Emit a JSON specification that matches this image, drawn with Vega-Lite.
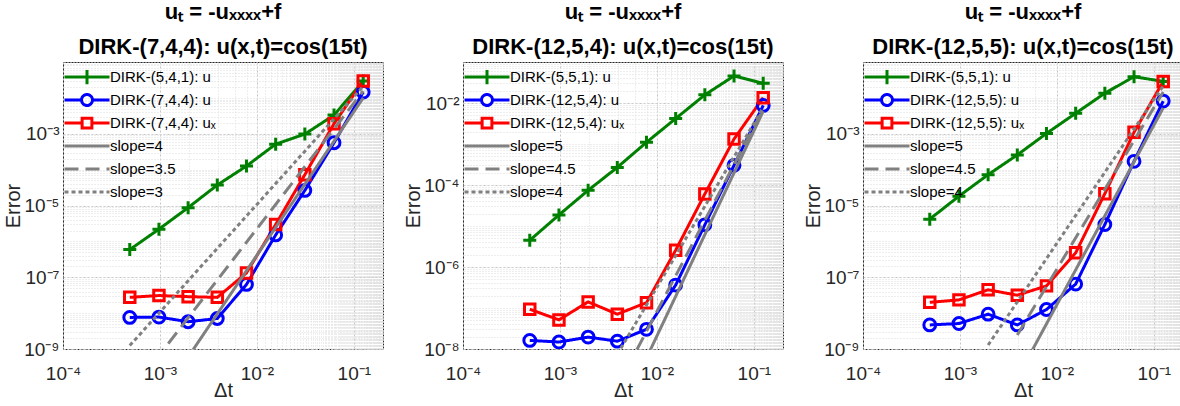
{
  "$schema": "https://vega.github.io/schema/vega-lite/v6.json",
  "background": "white",
  "padding": {"left": 2, "top": 0, "right": 0, "bottom": 0},
  "spacing": 80,
  "bounds": "flush",
  "datasets": {
    "p1": [
      {"s": "DIRK-(5,4,1): u", "k": "d", "dt": 0.00048828125, "e": 5.89e-7},
      {"s": "DIRK-(5,4,1): u", "k": "d", "dt": 0.0009765625, "e": 2.19e-6},
      {"s": "DIRK-(5,4,1): u", "k": "d", "dt": 0.001953125, "e": 8.71e-6},
      {"s": "DIRK-(5,4,1): u", "k": "d", "dt": 0.00390625, "e": 3.72e-5},
      {"s": "DIRK-(5,4,1): u", "k": "d", "dt": 0.0078125, "e": 1.26e-4},
      {"s": "DIRK-(5,4,1): u", "k": "d", "dt": 0.015625, "e": 5.13e-4},
      {"s": "DIRK-(5,4,1): u", "k": "d", "dt": 0.03125, "e": 9.77e-4},
      {"s": "DIRK-(5,4,1): u", "k": "d", "dt": 0.0625, "e": 3.31e-3},
      {"s": "DIRK-(5,4,1): u", "k": "d", "dt": 0.125, "e": 2.95e-2},
      {"s": "DIRK-(7,4,4): u", "k": "d", "dt": 0.00048828125, "e": 7.59e-9},
      {"s": "DIRK-(7,4,4): u", "k": "d", "dt": 0.0009765625, "e": 7.76e-9},
      {"s": "DIRK-(7,4,4): u", "k": "d", "dt": 0.001953125, "e": 5.75e-9},
      {"s": "DIRK-(7,4,4): u", "k": "d", "dt": 0.00390625, "e": 7.08e-9},
      {"s": "DIRK-(7,4,4): u", "k": "d", "dt": 0.0078125, "e": 6.31e-8},
      {"s": "DIRK-(7,4,4): u", "k": "d", "dt": 0.015625, "e": 1.51e-6},
      {"s": "DIRK-(7,4,4): u", "k": "d", "dt": 0.03125, "e": 2.63e-5},
      {"s": "DIRK-(7,4,4): u", "k": "d", "dt": 0.0625, "e": 5.62e-4},
      {"s": "DIRK-(7,4,4): u", "k": "d", "dt": 0.125, "e": 1.45e-2},
      {"s": "DIRK-(7,4,4): uₓ", "k": "d", "dt": 0.00048828125, "e": 2.75e-8},
      {"s": "DIRK-(7,4,4): uₓ", "k": "d", "dt": 0.0009765625, "e": 3.09e-8},
      {"s": "DIRK-(7,4,4): uₓ", "k": "d", "dt": 0.001953125, "e": 2.88e-8},
      {"s": "DIRK-(7,4,4): uₓ", "k": "d", "dt": 0.00390625, "e": 2.75e-8},
      {"s": "DIRK-(7,4,4): uₓ", "k": "d", "dt": 0.0078125, "e": 1.32e-7},
      {"s": "DIRK-(7,4,4): uₓ", "k": "d", "dt": 0.015625, "e": 2.95e-6},
      {"s": "DIRK-(7,4,4): uₓ", "k": "d", "dt": 0.03125, "e": 7.24e-5},
      {"s": "DIRK-(7,4,4): uₓ", "k": "d", "dt": 0.0625, "e": 1.91e-3},
      {"s": "DIRK-(7,4,4): uₓ", "k": "d", "dt": 0.125, "e": 2.95e-2},
      {"s": "slope=4", "k": "r", "dt": 0.00048828125, "e": 2.33e-12},
      {"s": "slope=4", "k": "r", "dt": 0.125, "e": 1.0e-2},
      {"s": "slope=3.5", "k": "r", "dt": 0.00048828125, "e": 5.77e-11},
      {"s": "slope=3.5", "k": "r", "dt": 0.125, "e": 1.55e-2},
      {"s": "slope=3", "k": "r", "dt": 0.00048828125, "e": 1.245e-9},
      {"s": "slope=3", "k": "r", "dt": 0.125, "e": 2.09e-2}
    ],
    "p2": [
      {"s": "DIRK-(5,5,1): u", "k": "d", "dt": 0.00048828125, "e": 4.47e-6},
      {"s": "DIRK-(5,5,1): u", "k": "d", "dt": 0.0009765625, "e": 1.86e-5},
      {"s": "DIRK-(5,5,1): u", "k": "d", "dt": 0.001953125, "e": 7.41e-5},
      {"s": "DIRK-(5,5,1): u", "k": "d", "dt": 0.00390625, "e": 2.69e-4},
      {"s": "DIRK-(5,5,1): u", "k": "d", "dt": 0.0078125, "e": 1.10e-3},
      {"s": "DIRK-(5,5,1): u", "k": "d", "dt": 0.015625, "e": 4.17e-3},
      {"s": "DIRK-(5,5,1): u", "k": "d", "dt": 0.03125, "e": 1.58e-2},
      {"s": "DIRK-(5,5,1): u", "k": "d", "dt": 0.0625, "e": 4.57e-2},
      {"s": "DIRK-(5,5,1): u", "k": "d", "dt": 0.125, "e": 3.02e-2},
      {"s": "DIRK-(12,5,4): u", "k": "d", "dt": 0.00048828125, "e": 1.62e-8},
      {"s": "DIRK-(12,5,4): u", "k": "d", "dt": 0.0009765625, "e": 1.48e-8},
      {"s": "DIRK-(12,5,4): u", "k": "d", "dt": 0.001953125, "e": 1.95e-8},
      {"s": "DIRK-(12,5,4): u", "k": "d", "dt": 0.00390625, "e": 1.55e-8},
      {"s": "DIRK-(12,5,4): u", "k": "d", "dt": 0.0078125, "e": 3.02e-8},
      {"s": "DIRK-(12,5,4): u", "k": "d", "dt": 0.015625, "e": 3.63e-7},
      {"s": "DIRK-(12,5,4): u", "k": "d", "dt": 0.03125, "e": 1.07e-5},
      {"s": "DIRK-(12,5,4): u", "k": "d", "dt": 0.0625, "e": 3.02e-4},
      {"s": "DIRK-(12,5,4): u", "k": "d", "dt": 0.125, "e": 8.71e-3},
      {"s": "DIRK-(12,5,4): uₓ", "k": "d", "dt": 0.00048828125, "e": 9.33e-8},
      {"s": "DIRK-(12,5,4): uₓ", "k": "d", "dt": 0.0009765625, "e": 5.13e-8},
      {"s": "DIRK-(12,5,4): uₓ", "k": "d", "dt": 0.001953125, "e": 1.41e-7},
      {"s": "DIRK-(12,5,4): uₓ", "k": "d", "dt": 0.00390625, "e": 7.08e-8},
      {"s": "DIRK-(12,5,4): uₓ", "k": "d", "dt": 0.0078125, "e": 1.35e-7},
      {"s": "DIRK-(12,5,4): uₓ", "k": "d", "dt": 0.015625, "e": 2.57e-6},
      {"s": "DIRK-(12,5,4): uₓ", "k": "d", "dt": 0.03125, "e": 6.03e-5},
      {"s": "DIRK-(12,5,4): uₓ", "k": "d", "dt": 0.0625, "e": 1.32e-3},
      {"s": "DIRK-(12,5,4): uₓ", "k": "d", "dt": 0.125, "e": 1.35e-2},
      {"s": "slope=5", "k": "r", "dt": 0.00390625, "e": 1.88e-10},
      {"s": "slope=5", "k": "r", "dt": 0.125, "e": 6.31e-3},
      {"s": "slope=4.5", "k": "r", "dt": 0.00390625, "e": 1.19e-9},
      {"s": "slope=4.5", "k": "r", "dt": 0.125, "e": 7.08e-3},
      {"s": "slope=4", "k": "r", "dt": 0.00390625, "e": 7.4e-9},
      {"s": "slope=4", "k": "r", "dt": 0.125, "e": 7.76e-3}
    ],
    "p3": [
      {"s": "DIRK-(5,5,1): u", "k": "d", "dt": 0.00048828125, "e": 4.17e-6},
      {"s": "DIRK-(5,5,1): u", "k": "d", "dt": 0.0009765625, "e": 1.82e-5},
      {"s": "DIRK-(5,5,1): u", "k": "d", "dt": 0.001953125, "e": 7.24e-5},
      {"s": "DIRK-(5,5,1): u", "k": "d", "dt": 0.00390625, "e": 2.57e-4},
      {"s": "DIRK-(5,5,1): u", "k": "d", "dt": 0.0078125, "e": 1.02e-3},
      {"s": "DIRK-(5,5,1): u", "k": "d", "dt": 0.015625, "e": 3.72e-3},
      {"s": "DIRK-(5,5,1): u", "k": "d", "dt": 0.03125, "e": 1.35e-2},
      {"s": "DIRK-(5,5,1): u", "k": "d", "dt": 0.0625, "e": 3.89e-2},
      {"s": "DIRK-(5,5,1): u", "k": "d", "dt": 0.125, "e": 2.88e-2},
      {"s": "DIRK-(12,5,5): u", "k": "d", "dt": 0.00048828125, "e": 4.68e-9},
      {"s": "DIRK-(12,5,5): u", "k": "d", "dt": 0.0009765625, "e": 5.13e-9},
      {"s": "DIRK-(12,5,5): u", "k": "d", "dt": 0.001953125, "e": 9.33e-9},
      {"s": "DIRK-(12,5,5): u", "k": "d", "dt": 0.00390625, "e": 4.68e-9},
      {"s": "DIRK-(12,5,5): u", "k": "d", "dt": 0.0078125, "e": 1.26e-8},
      {"s": "DIRK-(12,5,5): u", "k": "d", "dt": 0.015625, "e": 6.46e-8},
      {"s": "DIRK-(12,5,5): u", "k": "d", "dt": 0.03125, "e": 2.95e-6},
      {"s": "DIRK-(12,5,5): u", "k": "d", "dt": 0.0625, "e": 1.70e-4},
      {"s": "DIRK-(12,5,5): u", "k": "d", "dt": 0.125, "e": 8.13e-3},
      {"s": "DIRK-(12,5,5): uₓ", "k": "d", "dt": 0.00048828125, "e": 2.0e-8},
      {"s": "DIRK-(12,5,5): uₓ", "k": "d", "dt": 0.0009765625, "e": 2.34e-8},
      {"s": "DIRK-(12,5,5): uₓ", "k": "d", "dt": 0.001953125, "e": 4.47e-8},
      {"s": "DIRK-(12,5,5): uₓ", "k": "d", "dt": 0.00390625, "e": 3.16e-8},
      {"s": "DIRK-(12,5,5): uₓ", "k": "d", "dt": 0.0078125, "e": 5.75e-8},
      {"s": "DIRK-(12,5,5): uₓ", "k": "d", "dt": 0.015625, "e": 4.79e-7},
      {"s": "DIRK-(12,5,5): uₓ", "k": "d", "dt": 0.03125, "e": 2.14e-5},
      {"s": "DIRK-(12,5,5): uₓ", "k": "d", "dt": 0.0625, "e": 1.10e-3},
      {"s": "DIRK-(12,5,5): uₓ", "k": "d", "dt": 0.125, "e": 2.88e-2},
      {"s": "slope=5", "k": "r", "dt": 0.001953125, "e": 4.9e-12},
      {"s": "slope=5", "k": "r", "dt": 0.125, "e": 5.25e-3},
      {"s": "slope=4.5", "k": "r", "dt": 0.00390625, "e": 2.45e-9},
      {"s": "slope=4.5", "k": "r", "dt": 0.125, "e": 1.45e-2},
      {"s": "slope=4", "k": "r", "dt": 0.001953125, "e": 1.29e-9},
      {"s": "slope=4", "k": "r", "dt": 0.125, "e": 2.16e-2}
    ]
  },
  "hconcat": [
    {
      "width": 320, "height": 287,
      "data": {"name": "p1"},
      "title": {"text": ["uₜ = -uₓₓₓₓ+f", "DIRK-(7,4,4): u(x,t)=cos(15t)"]},
      "layer": [
        {
          "transform": [{"filter": "datum.k == 'd'"}],
          "mark": {"type": "line", "strokeWidth": 3, "clip": true},
          "encoding": {
            "x": {"field": "dt", "type": "quantitative", "scale": {"type": "log", "domain": [0.0001, 0.2], "nice": false},
              "axis": {"orient": "bottom", "values": [0.0001, 0.001, 0.01, 0.1], "labelExpr": "'10' + (datum.value < 1 ? '⁻' : '') + ['⁰','¹','²','³','⁴','⁵','⁶','⁷','⁸','⁹'][abs(round(log(datum.value)/LN10))]", "title": "Δt", "grid": true, "gridColor": "#c4c4c4", "gridDash": [2, 2], "labelPadding": 15, "titlePadding": -3}},
            "y": {"field": "e", "type": "quantitative", "scale": {"type": "log", "domain": [1e-9, 0.1], "nice": false},
              "axis": {"orient": "left", "values": [1e-9, 1e-7, 1e-5, 0.001], "labelExpr": "'10' + (datum.value < 1 ? '⁻' : '') + ['⁰','¹','²','³','⁴','⁵','⁶','⁷','⁸','⁹'][abs(round(log(datum.value)/LN10))]", "title": "Error", "grid": true, "gridColor": "#c4c4c4", "gridDash": [2, 2], "labelPadding": 4, "minExtent": 38, "maxExtent": 38, "titlePadding": 2}},
            "color": {"field": "s", "type": "nominal",
              "scale": {"domain": ["DIRK-(5,4,1): u", "DIRK-(7,4,4): u", "DIRK-(7,4,4): uₓ", "slope=4", "slope=3.5", "slope=3"], "range": ["#008000", "#0000ff", "#ff0000", "#808080", "#808080", "#808080"]},
              "legend": {"encode": {"symbols": {"update": {
                "shape": {"signal": "indexof(datum.value,'slope')>=0 ? 'M1.2,-0.95M1.2,0.95M-1.8,0H4.2' : indexof(datum.value,'ₓ')>=0 ? 'M1.2,-0.95M1.2,0.95M-1.8,0H0.55M1.85,0H4.2M0.55,-0.65H1.85V0.65H0.55Z' : indexof(datum.value,'(5,')>=0 ? 'M-1.8,0H4.2M1.2,-0.95V0.95' : 'M1.2,-0.95M1.2,0.95M-1.8,0H0.47M1.93,0H4.2M0.47,0A0.73,0.73,0,1,1,1.93,0A0.73,0.73,0,1,1,0.47,0'"},
                "stroke": {"signal": "indexof(datum.value,'slope')>=0 ? '#808080' : indexof(datum.value,'ₓ')>=0 ? '#ff0000' : indexof(datum.value,'(5,')>=0 ? '#008000' : '#0000ff'"},
                "strokeDash": {"signal": "datum.value=='slope=3.5' ? [24,10] : datum.value=='slope=3' ? [4,3] : [1,0]"},
                "strokeWidth": {"value": 3}, "fill": {"value": "transparent"}, "opacity": {"value": 1}}}}}},
            "strokeDash": {"field": "s", "type": "nominal", "legend": null,
              "scale": {"domain": ["DIRK-(5,4,1): u", "DIRK-(7,4,4): u", "DIRK-(7,4,4): uₓ", "slope=4", "slope=3.5", "slope=3"], "range": [[1, 0], [1, 0], [1, 0], [1, 0], [14, 7], [4, 3]]}}
          }
        },
        {
          "transform": [{"filter": "datum.k == 'd'"}],
          "mark": {"type": "point", "filled": false, "strokeWidth": 3, "opacity": 1, "clip": true},
          "encoding": {
            "x": {"field": "dt", "type": "quantitative", "axis": {"orient": "top", "tickCount": 100, "labels": false, "title": null, "grid": true, "gridColor": "#dcdcdc", "gridDash": [1, 2]}},
            "y": {"field": "e", "type": "quantitative", "axis": {"orient": "right", "tickCount": 100, "labels": false, "title": null, "grid": true, "gridColor": "#dcdcdc", "gridDash": [1, 2]}},
            "color": {"field": "s", "type": "nominal"},
            "shape": {"field": "s", "type": "nominal", "legend": null, "scale": {"domain": ["DIRK-(5,4,1): u", "DIRK-(7,4,4): u", "DIRK-(7,4,4): uₓ"], "range": ["M-1,0H1M0,-1V1", "circle", "square"]}},
            "size": {"field": "s", "type": "nominal", "legend": null, "scale": {"domain": ["DIRK-(5,4,1): u", "DIRK-(7,4,4): u", "DIRK-(7,4,4): uₓ"], "range": [169, 110, 90]}}
          }
        },
        {
          "transform": [{"filter": "datum.k == 'r'"}],
          "mark": {"type": "line", "strokeWidth": 3, "clip": true},
          "encoding": {
            "x": {"field": "dt", "type": "quantitative", "axis": null},
            "y": {"field": "e", "type": "quantitative", "axis": null},
            "color": {"field": "s", "type": "nominal"},
            "strokeDash": {"field": "s", "type": "nominal", "legend": null}
          }
        }
      ],
      "resolve": {"axis": {"x": "independent", "y": "independent"}}
    },
    {
      "width": 320, "height": 287,
      "data": {"name": "p2"},
      "title": {"text": ["uₜ = -uₓₓₓₓ+f", "DIRK-(12,5,4): u(x,t)=cos(15t)"]},
      "layer": [
        {
          "transform": [{"filter": "datum.k == 'd'"}],
          "mark": {"type": "line", "strokeWidth": 3, "clip": true},
          "encoding": {
            "x": {"field": "dt", "type": "quantitative", "scale": {"type": "log", "domain": [0.0001, 0.2], "nice": false},
              "axis": {"orient": "bottom", "values": [0.0001, 0.001, 0.01, 0.1], "labelExpr": "'10' + (datum.value < 1 ? '⁻' : '') + ['⁰','¹','²','³','⁴','⁵','⁶','⁷','⁸','⁹'][abs(round(log(datum.value)/LN10))]", "title": "Δt", "grid": true, "gridColor": "#c4c4c4", "gridDash": [2, 2], "labelPadding": 15, "titlePadding": -3}},
            "y": {"field": "e", "type": "quantitative", "scale": {"type": "log", "domain": [1e-8, 0.1], "nice": false},
              "axis": {"orient": "left", "values": [1e-8, 1e-6, 1e-4, 0.01], "labelExpr": "'10' + (datum.value < 1 ? '⁻' : '') + ['⁰','¹','²','³','⁴','⁵','⁶','⁷','⁸','⁹'][abs(round(log(datum.value)/LN10))]", "title": "Error", "grid": true, "gridColor": "#c4c4c4", "gridDash": [2, 2], "labelPadding": 4, "minExtent": 38, "maxExtent": 38, "titlePadding": 2}},
            "color": {"field": "s", "type": "nominal",
              "scale": {"domain": ["DIRK-(5,5,1): u", "DIRK-(12,5,4): u", "DIRK-(12,5,4): uₓ", "slope=5", "slope=4.5", "slope=4"], "range": ["#008000", "#0000ff", "#ff0000", "#808080", "#808080", "#808080"]},
              "legend": {"encode": {"symbols": {"update": {
                "shape": {"signal": "indexof(datum.value,'slope')>=0 ? 'M1.2,-0.95M1.2,0.95M-1.8,0H4.2' : indexof(datum.value,'ₓ')>=0 ? 'M1.2,-0.95M1.2,0.95M-1.8,0H0.55M1.85,0H4.2M0.55,-0.65H1.85V0.65H0.55Z' : indexof(datum.value,'(5,')>=0 ? 'M-1.8,0H4.2M1.2,-0.95V0.95' : 'M1.2,-0.95M1.2,0.95M-1.8,0H0.47M1.93,0H4.2M0.47,0A0.73,0.73,0,1,1,1.93,0A0.73,0.73,0,1,1,0.47,0'"},
                "stroke": {"signal": "indexof(datum.value,'slope')>=0 ? '#808080' : indexof(datum.value,'ₓ')>=0 ? '#ff0000' : indexof(datum.value,'(5,')>=0 ? '#008000' : '#0000ff'"},
                "strokeDash": {"signal": "datum.value=='slope=4.5' ? [24,10] : datum.value=='slope=4' ? [4,3] : [1,0]"},
                "strokeWidth": {"value": 3}, "fill": {"value": "transparent"}, "opacity": {"value": 1}}}}}},
            "strokeDash": {"field": "s", "type": "nominal", "legend": null,
              "scale": {"domain": ["DIRK-(5,5,1): u", "DIRK-(12,5,4): u", "DIRK-(12,5,4): uₓ", "slope=5", "slope=4.5", "slope=4"], "range": [[1, 0], [1, 0], [1, 0], [1, 0], [14, 7], [4, 3]]}}
          }
        },
        {
          "transform": [{"filter": "datum.k == 'd'"}],
          "mark": {"type": "point", "filled": false, "strokeWidth": 3, "opacity": 1, "clip": true},
          "encoding": {
            "x": {"field": "dt", "type": "quantitative", "axis": {"orient": "top", "tickCount": 100, "labels": false, "title": null, "grid": true, "gridColor": "#dcdcdc", "gridDash": [1, 2]}},
            "y": {"field": "e", "type": "quantitative", "axis": {"orient": "right", "tickCount": 100, "labels": false, "title": null, "grid": true, "gridColor": "#dcdcdc", "gridDash": [1, 2]}},
            "color": {"field": "s", "type": "nominal"},
            "shape": {"field": "s", "type": "nominal", "legend": null, "scale": {"domain": ["DIRK-(5,5,1): u", "DIRK-(12,5,4): u", "DIRK-(12,5,4): uₓ"], "range": ["M-1,0H1M0,-1V1", "circle", "square"]}},
            "size": {"field": "s", "type": "nominal", "legend": null, "scale": {"domain": ["DIRK-(5,5,1): u", "DIRK-(12,5,4): u", "DIRK-(12,5,4): uₓ"], "range": [169, 110, 90]}}
          }
        },
        {
          "transform": [{"filter": "datum.k == 'r'"}],
          "mark": {"type": "line", "strokeWidth": 3, "clip": true},
          "encoding": {
            "x": {"field": "dt", "type": "quantitative", "axis": null},
            "y": {"field": "e", "type": "quantitative", "axis": null},
            "color": {"field": "s", "type": "nominal"},
            "strokeDash": {"field": "s", "type": "nominal", "legend": null}
          }
        }
      ],
      "resolve": {"axis": {"x": "independent", "y": "independent"}}
    },
    {
      "width": 320, "height": 287,
      "data": {"name": "p3"},
      "title": {"text": ["uₜ = -uₓₓₓₓ+f", "DIRK-(12,5,5): u(x,t)=cos(15t)"]},
      "layer": [
        {
          "transform": [{"filter": "datum.k == 'd'"}],
          "mark": {"type": "line", "strokeWidth": 3, "clip": true},
          "encoding": {
            "x": {"field": "dt", "type": "quantitative", "scale": {"type": "log", "domain": [0.0001, 0.2], "nice": false},
              "axis": {"orient": "bottom", "values": [0.0001, 0.001, 0.01, 0.1], "labelExpr": "'10' + (datum.value < 1 ? '⁻' : '') + ['⁰','¹','²','³','⁴','⁵','⁶','⁷','⁸','⁹'][abs(round(log(datum.value)/LN10))]", "title": "Δt", "grid": true, "gridColor": "#c4c4c4", "gridDash": [2, 2], "labelPadding": 15, "titlePadding": -3}},
            "y": {"field": "e", "type": "quantitative", "scale": {"type": "log", "domain": [1e-9, 0.1], "nice": false},
              "axis": {"orient": "left", "values": [1e-9, 1e-7, 1e-5, 0.001], "labelExpr": "'10' + (datum.value < 1 ? '⁻' : '') + ['⁰','¹','²','³','⁴','⁵','⁶','⁷','⁸','⁹'][abs(round(log(datum.value)/LN10))]", "title": "Error", "grid": true, "gridColor": "#c4c4c4", "gridDash": [2, 2], "labelPadding": 4, "minExtent": 38, "maxExtent": 38, "titlePadding": 2}},
            "color": {"field": "s", "type": "nominal",
              "scale": {"domain": ["DIRK-(5,5,1): u", "DIRK-(12,5,5): u", "DIRK-(12,5,5): uₓ", "slope=5", "slope=4.5", "slope=4"], "range": ["#008000", "#0000ff", "#ff0000", "#808080", "#808080", "#808080"]},
              "legend": {"encode": {"symbols": {"update": {
                "shape": {"signal": "indexof(datum.value,'slope')>=0 ? 'M1.2,-0.95M1.2,0.95M-1.8,0H4.2' : indexof(datum.value,'ₓ')>=0 ? 'M1.2,-0.95M1.2,0.95M-1.8,0H0.55M1.85,0H4.2M0.55,-0.65H1.85V0.65H0.55Z' : indexof(datum.value,'(5,')>=0 ? 'M-1.8,0H4.2M1.2,-0.95V0.95' : 'M1.2,-0.95M1.2,0.95M-1.8,0H0.47M1.93,0H4.2M0.47,0A0.73,0.73,0,1,1,1.93,0A0.73,0.73,0,1,1,0.47,0'"},
                "stroke": {"signal": "indexof(datum.value,'slope')>=0 ? '#808080' : indexof(datum.value,'ₓ')>=0 ? '#ff0000' : indexof(datum.value,'(5,')>=0 ? '#008000' : '#0000ff'"},
                "strokeDash": {"signal": "datum.value=='slope=4.5' ? [24,10] : datum.value=='slope=4' ? [4,3] : [1,0]"},
                "strokeWidth": {"value": 3}, "fill": {"value": "transparent"}, "opacity": {"value": 1}}}}}},
            "strokeDash": {"field": "s", "type": "nominal", "legend": null,
              "scale": {"domain": ["DIRK-(5,5,1): u", "DIRK-(12,5,5): u", "DIRK-(12,5,5): uₓ", "slope=5", "slope=4.5", "slope=4"], "range": [[1, 0], [1, 0], [1, 0], [1, 0], [14, 7], [4, 3]]}}
          }
        },
        {
          "transform": [{"filter": "datum.k == 'd'"}],
          "mark": {"type": "point", "filled": false, "strokeWidth": 3, "opacity": 1, "clip": true},
          "encoding": {
            "x": {"field": "dt", "type": "quantitative", "axis": {"orient": "top", "tickCount": 100, "labels": false, "title": null, "grid": true, "gridColor": "#dcdcdc", "gridDash": [1, 2]}},
            "y": {"field": "e", "type": "quantitative", "axis": {"orient": "right", "tickCount": 100, "labels": false, "title": null, "grid": true, "gridColor": "#dcdcdc", "gridDash": [1, 2]}},
            "color": {"field": "s", "type": "nominal"},
            "shape": {"field": "s", "type": "nominal", "legend": null, "scale": {"domain": ["DIRK-(5,5,1): u", "DIRK-(12,5,5): u", "DIRK-(12,5,5): uₓ"], "range": ["M-1,0H1M0,-1V1", "circle", "square"]}},
            "size": {"field": "s", "type": "nominal", "legend": null, "scale": {"domain": ["DIRK-(5,5,1): u", "DIRK-(12,5,5): u", "DIRK-(12,5,5): uₓ"], "range": [169, 110, 90]}}
          }
        },
        {
          "transform": [{"filter": "datum.k == 'r'"}],
          "mark": {"type": "line", "strokeWidth": 3, "clip": true},
          "encoding": {
            "x": {"field": "dt", "type": "quantitative", "axis": null},
            "y": {"field": "e", "type": "quantitative", "axis": null},
            "color": {"field": "s", "type": "nominal"},
            "strokeDash": {"field": "s", "type": "nominal", "legend": null}
          }
        }
      ],
      "resolve": {"axis": {"x": "independent", "y": "independent"}}
    }
  ],
  "resolve": {"scale": {"color": "independent", "strokeDash": "independent", "shape": "independent", "size": "independent", "x": "independent", "y": "independent"}, "legend": {"color": "independent"}},
  "config": {
    "font": "Liberation Sans",
    "view": {"stroke": "#262626", "strokeWidth": 1},
    "axis": {"domain": false, "ticks": false, "labelColor": "#262626", "titleColor": "#262626", "labelFont": "Liberation Sans", "titleFont": "Liberation Sans", "titleFontWeight": "normal", "labelFontSize": 19, "titleFontSize": 20, "labelFlush": false, "labelOverlap": false, "labelBound": false},
    "title": {"font": "Liberation Sans", "fontSize": 22, "fontWeight": "bold", "color": "#000000", "anchor": "middle", "frame": "group", "lineHeight": 35, "offset": 3},
    "legend": {"orient": "top-left", "offset": 6, "title": null, "padding": 0, "symbolSize": 225, "symbolStrokeWidth": 3, "labelOffset": 23, "labelFontSize": 15, "labelFont": "Liberation Sans", "labelColor": "#000000", "rowPadding": -5, "labelLimit": 300, "labelExpr": "indexof(datum.label,'slope')>=0 ? '\u00a0' + datum.label : datum.label"}
  }
}
